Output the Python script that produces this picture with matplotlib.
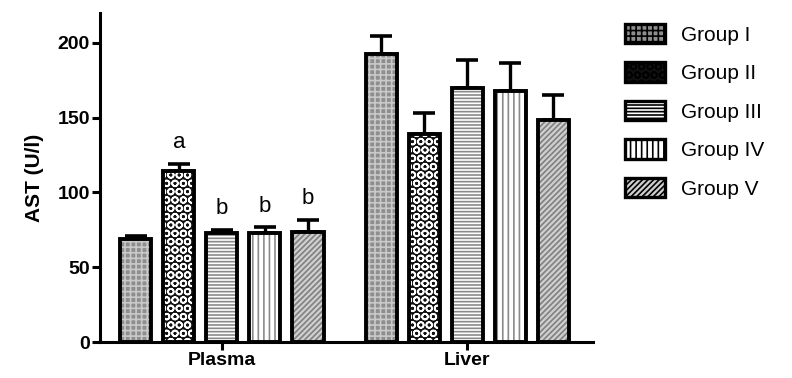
import numpy as np
import matplotlib.pyplot as plt
from matplotlib.patches import Patch

plt.rcParams['font.family'] = ['Liberation Sans', 'DejaVu Sans']
plt.rcParams['hatch.linewidth'] = 1.2

tissues = ['Plasma', 'Liver']
groups = ['Group I', 'Group II', 'Group III', 'Group IV', 'Group V']
plasma = [68.7, 114.5, 72.8, 72.8, 73.4]
plasma_err = [2.3, 4.7, 2.2, 4.0, 8.3]
liver = [192.2, 139.0, 169.9, 167.6, 148.6]
liver_err = [12.4, 14.1, 18.3, 19.0, 16.8]
letters = ['', 'a', 'b', 'b', 'b']

# fill / hatch colour / hatch per group
faces = ['#8e8e8e', '#111111', 'white', 'white', '#cfcfcf']
hatch_cols = ['#c9c9c9', 'white', '#8a8a8a', '#8a8a8a', '#808080']
hatches = ['+++', 'OO', '-----', '|||', '//////']

fig = plt.figure(figsize=(7.92, 3.78), dpi=100)
ax = fig.add_axes([0.126, 0.095, 0.623, 0.871])

step = 0.1755
width = 0.1265
offsets = (np.arange(5) - 2) * step
vals = [plasma, liver]
errs = [plasma_err, liver_err]

for t in range(2):
    for g in range(5):
        x = t + offsets[g]
        v = vals[t][g]
        # error bar (upper only)
        ax.errorbar(x, v, yerr=[[0], [errs[t][g]]], fmt='none', ecolor='black',
                    elinewidth=2.4, capsize=8, capthick=2.6, zorder=1)
        ax.bar(x, v, width, color=faces[g], edgecolor=hatch_cols[g],
               hatch=hatches[g], linewidth=0, zorder=2)
        ax.bar(x, v, width, fill=False, edgecolor='black', linewidth=2.8, zorder=3)

for g in range(5):
    if letters[g]:
        top = plasma[g] + plasma_err[g]
        ax.text(offsets[g], top + 7, letters[g], ha='center', va='bottom', fontsize=16)

ax.set_xlim(-0.498, 1.514)
ax.set_ylim(0, 220)
ax.set_yticks([0, 50, 100, 150, 200])
ax.set_xticks([0, 1])
ax.set_xticklabels(tissues)
for lab in ax.get_xticklabels() + ax.get_yticklabels():
    lab.set_fontweight('bold')
    lab.set_fontsize(14)
ax.set_ylabel('AST (U/l)', fontsize=15, fontweight='bold', labelpad=10)
ax.spines['top'].set_visible(False)
ax.spines['right'].set_visible(False)
ax.spines['left'].set_linewidth(2.2)
ax.spines['bottom'].set_linewidth(2.2)
ax.tick_params(axis='both', width=2.2, length=6, pad=1)

handles = [Patch(facecolor=faces[g], edgecolor='black', hatch=hatches[g], linewidth=2.4)
           for g in range(5)]
leg = fig.legend(handles, groups, loc='upper left', bbox_to_anchor=(625 / 792, 1 - 24 / 378),
                 frameon=False, fontsize=15, handlelength=1.9, handleheight=1.05,
                 labelspacing=0.85, handletextpad=0.8, borderpad=0, borderaxespad=0)

fig.savefig('out.png', dpi=100)
